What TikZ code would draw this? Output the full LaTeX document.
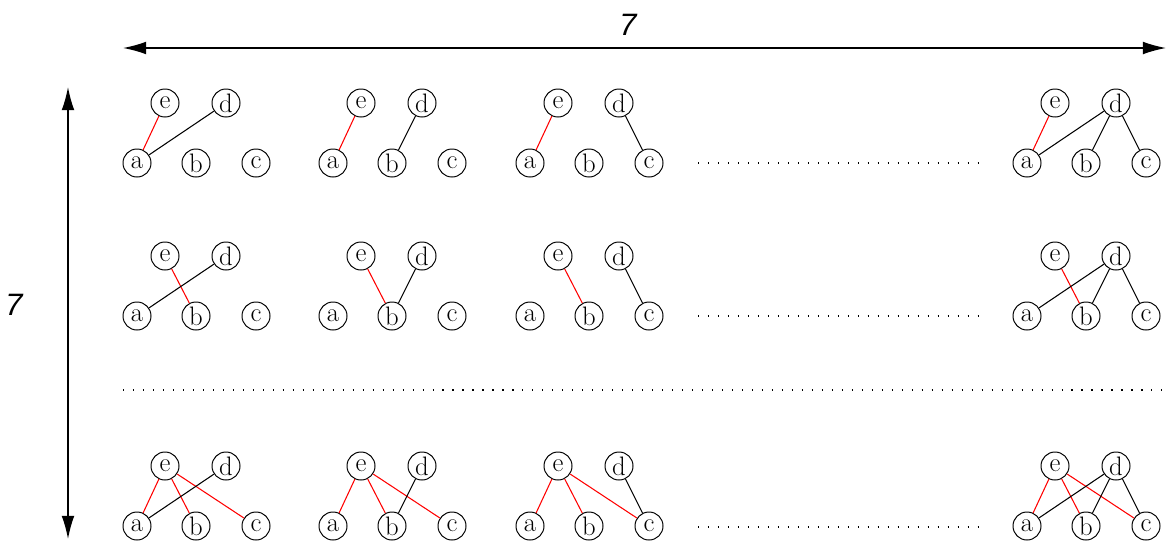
\documentclass[tikz,border=0pt]{standalone}
\usepackage{fontspec}
\newfontfamily\dimfont{Liberation Sans}
\usetikzlibrary{arrows.meta}

\tikzset{
  vertex/.style={draw, circle, minimum size=0.7cm, inner sep=0pt, line width=0.7pt,
    font=\fontsize{19}{19}\selectfont},
  redge/.style={red, line width=0.75pt},
  bedge/.style={black, line width=0.75pt},
  dotline/.style={line width=0.8pt, dash pattern=on 0.8pt off 6.3pt},
  dimarrow/.style={{Latex[length=0.58cm,width=0.32cm]}-{Latex[length=0.58cm,width=0.32cm]},
    line width=1pt},
  dimlabel/.style={font=\dimfont\itshape\fontsize{22}{26}\selectfont},
}

% #1 name, #2 x of a, #3 y of a, #4 red targets of e, #5 black targets of d
\newcommand{\bigraph}[5]{%
  \draw
    (#2,#3) node[vertex] (#1a){a}
    (#2+59,#3) node[vertex] (#1b){b}
    (#2+119,#3) node[vertex] (#1c){c}
    (#2+28,#3-60) node[vertex] (#1e){e}
    (#2+89,#3-60) node[vertex] (#1d){d};
  \foreach \t in {#4} \draw[redge] (#1e) -- (#1\t);
  \foreach \t in {#5} \draw[bedge] (#1d) -- (#1\t);
}

\begin{document}
\begin{tikzpicture}[x=0.025cm, y=-0.025cm]
  \useasboundingbox (0,0) rectangle (1168,540);

  % size arrows
  \coordinate (tl) at (123,48);
  \coordinate (tr) at (1166,48);
  \coordinate (lt) at (68,87);
  \coordinate (lb) at (68,539);
  \draw[dimarrow] (tl) -- (tr);
  \draw[dimarrow] (lt) -- (lb);
  \node[dimlabel] (toplabel) at (628,25) {7};
  \node[dimlabel] (leftlabel) at (14,305) {7};

  % first row: e--a
  \bigraph{r1g1}{137}{163}{a}{a}
  \bigraph{r1g2}{333}{163}{a}{b}
  \bigraph{r1g3}{530}{163}{a}{c}
  \bigraph{r1g4}{1027}{163}{a}{a,b,c}

  % second row: e--b
  \bigraph{r2g1}{137}{316}{b}{a}
  \bigraph{r2g2}{333}{316}{b}{b}
  \bigraph{r2g3}{530}{316}{b}{c}
  \bigraph{r2g4}{1027}{316}{b}{a,b,c}

  % last row: e--a,b,c
  \bigraph{r3g1}{137}{526}{a,b,c}{a}
  \bigraph{r3g2}{333}{526}{a,b,c}{b}
  \bigraph{r3g3}{530}{526}{a,b,c}{c}
  \bigraph{r3g4}{1027}{526}{a,b,c}{a,b,c}

  % elided graphs
  \coordinate (d1s) at (698,163);
  \coordinate (d1e) at (987,163);
  \coordinate (d2s) at (698,316);
  \coordinate (d2e) at (987,316);
  \coordinate (d3s) at (698,527);
  \coordinate (d3e) at (987,527);
  \coordinate (dms) at (123,390);
  \coordinate (dme) at (1168,390);
  \draw[dotline] (d1s) -- (d1e);
  \draw[dotline] (d2s) -- (d2e);
  \draw[dotline] (d3s) -- (d3e);
  \draw[dotline] (dms) -- (dme);
\end{tikzpicture}
\end{document}
